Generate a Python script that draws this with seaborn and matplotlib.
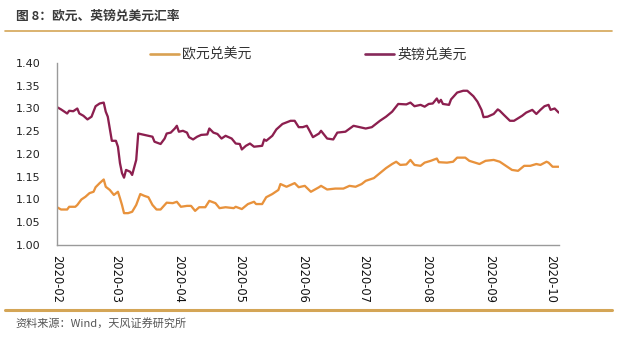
import matplotlib
matplotlib.use("Agg")
import matplotlib.pyplot as plt
import matplotlib.dates as mdates
from matplotlib.lines import Line2D
import seaborn as sns
import pandas as pd
import numpy as np

# ---- data (day offsets from 2020-02-01) ----
start_date = "2020-02-01"

gbp_days = [0, 2, 5, 6, 8, 10, 11, 13, 15, 17,
            19, 21, 23, 24, 25, 27, 29, 30, 31, 32,
            33, 34, 36, 37, 39, 40, 42, 45, 47, 48,
            51, 53, 54, 56, 58, 59, 60, 62, 64, 65,
            67, 69, 71, 74, 75, 77, 79, 81, 83, 86,
            88, 90, 91, 93, 95, 97, 101, 102, 103, 106,
            108, 111, 115, 117, 119, 121, 123, 124, 126, 129,
            130, 133, 136, 138, 142, 146, 149, 152, 155, 159,
            162, 165, 168, 172, 174, 176, 179, 181, 183, 185,
            187, 188, 189, 190, 193, 194, 197, 200, 202, 205,
            207, 209, 210, 212, 215, 217, 218, 220, 223, 225,
            229, 231, 234, 236, 238, 240, 242, 243, 245, 247]
gbp_values = [1.303, 1.298, 1.289, 1.295, 1.294, 1.300, 1.289, 1.284, 1.276, 1.282,
              1.305, 1.311, 1.313, 1.293, 1.282, 1.229, 1.229, 1.216, 1.180, 1.158,
              1.148, 1.165, 1.161, 1.154, 1.187, 1.245, 1.243, 1.240, 1.238, 1.227,
              1.222, 1.234, 1.245, 1.247, 1.256, 1.262, 1.249, 1.251, 1.247, 1.237,
              1.232, 1.238, 1.242, 1.243, 1.256, 1.247, 1.244, 1.234, 1.240, 1.234,
              1.223, 1.222, 1.210, 1.218, 1.223, 1.216, 1.218, 1.232, 1.229, 1.240,
              1.254, 1.266, 1.273, 1.273, 1.259, 1.259, 1.262, 1.254, 1.237, 1.245,
              1.251, 1.234, 1.232, 1.247, 1.249, 1.262, 1.259, 1.256, 1.259, 1.273,
              1.282, 1.293, 1.310, 1.309, 1.313, 1.305, 1.308, 1.304, 1.310, 1.311,
              1.322, 1.313, 1.319, 1.310, 1.308, 1.320, 1.335, 1.339, 1.339, 1.327,
              1.315, 1.297, 1.281, 1.282, 1.288, 1.298, 1.295, 1.286, 1.273, 1.273,
              1.284, 1.291, 1.297, 1.288, 1.297, 1.305, 1.308, 1.297, 1.300, 1.291]

eur_days = [0, 2, 5, 6, 9, 10, 12, 14, 16, 18,
            19, 21, 23, 24, 26, 28, 30, 31, 32, 33,
            35, 37, 39, 41, 43, 45, 47, 49, 51, 53,
            54, 57, 59, 61, 64, 66, 68, 70, 73, 75,
            78, 80, 83, 87, 88, 91, 94, 97, 98, 101,
            103, 106, 109, 110, 113, 117, 119, 122, 125, 129,
            130, 133, 137, 141, 144, 147, 150, 152, 156, 159,
            162, 165, 167, 169, 172, 174, 176, 179, 181, 184,
            187, 188, 192, 195, 197, 201, 203, 208, 211, 215,
            218, 221, 224, 227, 230, 233, 236, 238, 241, 242,
            244, 247]
eur_values = [1.083, 1.078, 1.078, 1.084, 1.084, 1.088, 1.100, 1.106, 1.114, 1.117,
              1.127, 1.136, 1.144, 1.128, 1.121, 1.110, 1.117, 1.103, 1.088, 1.070,
              1.070, 1.073, 1.088, 1.112, 1.108, 1.105, 1.088, 1.078, 1.078, 1.088,
              1.093, 1.092, 1.095, 1.084, 1.086, 1.086, 1.075, 1.083, 1.083, 1.097,
              1.092, 1.081, 1.083, 1.081, 1.084, 1.079, 1.090, 1.095, 1.090, 1.090,
              1.105, 1.112, 1.121, 1.134, 1.128, 1.136, 1.127, 1.130, 1.117, 1.127,
              1.130, 1.122, 1.124, 1.124, 1.130, 1.128, 1.134, 1.141, 1.147, 1.158,
              1.169, 1.178, 1.183, 1.176, 1.177, 1.187, 1.176, 1.174, 1.181, 1.185,
              1.190, 1.182, 1.181, 1.183, 1.192, 1.192, 1.185, 1.178, 1.185, 1.187,
              1.183, 1.174, 1.165, 1.163, 1.174, 1.174, 1.178, 1.176, 1.183, 1.181,
              1.172, 1.172]

series_names = ["欧元兑美元", "英镑兑美元"]
series_colors = ["#E8923C", "#8C1F4F"]
legend_colors = ["#D9A152", "#86295A"]
y_ticks = [1.00, 1.05, 1.10, 1.15, 1.20, 1.25, 1.30, 1.35, 1.40]
title_text = "图 8：欧元、英镑兑美元汇率"
source_text = "资料来源：Wind，天风证券研究所"

# ---- build frame ----
t0 = pd.Timestamp(start_date)
df = pd.concat([
    pd.DataFrame({"date": t0 + pd.to_timedelta(eur_days, unit="D"),
                  "value": eur_values, "series": series_names[0]}),
    pd.DataFrame({"date": t0 + pd.to_timedelta(gbp_days, unit="D"),
                  "value": gbp_values, "series": series_names[1]}),
], ignore_index=True)

sns.set_style("white")
plt.rcParams["font.family"] = ["DejaVu Sans", "Noto Sans CJK SC"]
CJK = ["Noto Sans CJK SC", "DejaVu Sans"]

W, H = 619, 345
fig = plt.figure(figsize=(W / 100, H / 100), dpi=100)
ax = fig.add_axes([57 / W, 1 - 245 / H, (559.3 - 57) / W, (245 - 63) / H])

sns.lineplot(data=df, x="date", y="value", hue="series",
             palette=dict(zip(series_names, series_colors)),
             linewidth=1.65, ax=ax, legend=False, estimator=None, sort=True)

ax.set_xlim(t0, t0 + pd.Timedelta(days=247.3))
ax.set_ylim(1.0, 1.40)
ax.set_yticks(y_ticks)
ax.set_yticklabels([f"{v:.2f}" for v in y_ticks], fontsize=8, color="#222222")
ax.xaxis.set_major_locator(mdates.MonthLocator())
ax.xaxis.set_major_formatter(mdates.DateFormatter("%Y-%m"))
plt.setp(ax.get_xticklabels(), rotation=270, fontsize=8.3, color="#111111",
         ha="center", va="top")
ax.set_xlabel("")
ax.set_ylabel("")
ax.grid(False)
for s in ["top", "right"]:
    ax.spines[s].set_visible(False)
for s in ["left", "bottom"]:
    ax.spines[s].set_color("#9a9a9a")
    ax.spines[s].set_linewidth(1.0)
ax.tick_params(axis="y", direction="out", length=4, width=1, color="#9a9a9a", pad=8)
ax.tick_params(axis="x", direction="out", length=3, width=1, color="#9a9a9a", pad=4)

handles = [Line2D([], [], color=c, lw=1.9) for c in legend_colors]
leg = ax.legend(handles, series_names, loc="center", bbox_to_anchor=(0.5, 1.045),
                ncol=2, frameon=False, handlelength=2.1, handletextpad=0.2,
                columnspacing=8.2, prop={"family": CJK, "size": 10})
for t in leg.get_texts():
    t.set_color("#333333")

# title and separators
fig.text(16 / W, 1 - 16 / H, title_text, family=CJK, fontsize=9.2,
         fontweight="bold", color="#3a3a3a", va="center", ha="left")
fig.add_artist(Line2D([5 / W, 612 / W], [1 - 31 / H, 1 - 31 / H],
                      color="#D4A556", lw=1.2, transform=fig.transFigure))
fig.add_artist(Line2D([5 / W, 612 / W], [1 - 310 / H, 1 - 310 / H],
                      color="#D4A556", lw=2.2, transform=fig.transFigure))
fig.text(15 / W, 1 - 323 / H, source_text, family=CJK, fontsize=8,
         color="#555555", va="center", ha="left")

fig.savefig("out.png", dpi=100, facecolor="white")
